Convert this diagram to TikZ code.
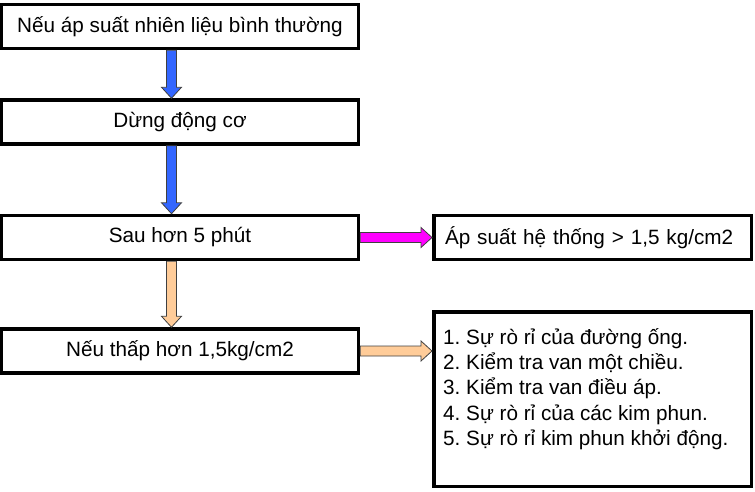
\documentclass[tikz,border=0pt]{standalone}
\usepackage{fontspec}
\setmainfont{Liberation Sans}
\usetikzlibrary{calc}
\definecolor{ccbleu}{RGB}{51,102,255}
\definecolor{ccpeche}{RGB}{255,204,153}
\definecolor{ccmagenta}{RGB}{255,0,255}
\frenchspacing

% Flèche pleine : couleur, départ, arrivée
\newcommand{\flechebloc}[3]{%
  \coordinate (fb-d) at (#2);
  \coordinate (fb-f) at (#3);
  \coordinate (fb-t) at ($(fb-f)!11pt!(fb-d)$);
  \draw[blocfleche, fill=#1] ($(fb-d)!5pt!90:(fb-f)$) -- ($(fb-t)!5pt!90:(fb-f)$)
    -- ($(fb-t)!10pt!90:(fb-f)$) -- (fb-f) -- ($(fb-t)!10pt!-90:(fb-f)$)
    -- ($(fb-t)!5pt!-90:(fb-f)$) -- ($(fb-d)!5pt!-90:(fb-f)$) -- cycle ;}

\begin{document}
\begin{tikzpicture}[x=1pt,y=-1pt]

  % Styles
  \tikzstyle{boite} = [draw, line width=3.5pt, inner sep=0pt, minimum height=44pt, font=\fontsize{20.7}{24}\selectfont]
  \tikzstyle{blocfleche} = [draw=black!75, line width=0.8pt, line join=miter]

  % Cadre
  \useasboundingbox (0,0) rectangle (755,491) ;

  % Colonne de gauche
  \draw (180,26.5) node[boite, minimum width=357pt] (b1) {Nếu áp suất nhiên liệu bình thường} ;
  \draw (180,122) node[boite, minimum width=357pt] (b2) {Dừng động cơ} ;
  \draw (180,237.5) node[boite, minimum width=357pt] (b3) {Sau hơn 5 phút} ;
  \draw (180,351) node[boite, minimum width=357pt] (b4) {Nếu thấp hơn 1,5kg/cm2} ;

  % Colonne de droite
  \draw (592.5,237.5) node[boite, minimum width=317.5pt, text width=295pt, align=left] (b5) {Áp suất hệ thống > 1,5 kg/cm2} ;
  \draw (592.5,399) node[boite, minimum width=317.5pt, minimum height=174.5pt] (b6) {} ;
  \draw ([shift={(11,18)}]b6.north west) node[anchor=north west, inner sep=0pt, align=left, font=\fontsize{20.7}{25.4}\selectfont] (liste)
    {1. Sự rò rỉ của đường ống.\\2. Kiểm tra van một chiều.\\3. Kiểm tra van điều áp.\\4. Sự rò rỉ của các kim phun.\\5. Sự rò rỉ kim phun khởi động.} ;

  % Flèches
  \flechebloc{ccbleu}{[xshift=-8.5pt]b1.south}{[xshift=-8.5pt]b2.north}
  \flechebloc{ccbleu}{[xshift=-8.5pt]b2.south}{[xshift=-8.5pt]b3.north}
  \flechebloc{ccpeche}{[xshift=-8.5pt]b3.south}{[xshift=-8.5pt]b4.north}
  \flechebloc{ccmagenta}{b3.east}{b5.west}
  \flechebloc{ccpeche}{b4.east}{b6.west |- b4.east}

\end{tikzpicture}
\end{document}
